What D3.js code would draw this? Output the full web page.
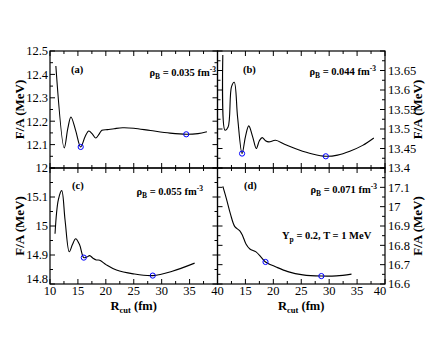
<!DOCTYPE html>
<html>
<head>
<meta charset="utf-8">
<script src="https://cdn.jsdelivr.net/npm/d3@7"></script>
<style>
  body { margin: 0; background: #fff; }
  svg text { fill: #000; }
</style>
</head>
<body>
<div id="chart"></div>
<script>
// values (R_cut in fm, F/A in MeV)
const rA = [11.05, 12.55, 13.2, 13.75, 14.6, 15.5, 16.3, 16.95, 17.6, 18.2, 18.8, 19.3, 20.3, 21.5, 23.0, 25.0, 28.0, 31.5, 34.4, 36.5, 38.1];
const fA = [12.436, 12.086, 12.17, 12.218, 12.16, 12.09, 12.135, 12.158, 12.145, 12.128, 12.145, 12.161, 12.164, 12.168, 12.172, 12.170, 12.160, 12.149, 12.144, 12.147, 12.155];
const minA = [[15.5, 12.09], [34.4, 12.144]];

const rB = [10.95, 11.35, 11.9, 12.5, 13.0, 13.6, 14.4, 15.0, 15.6, 16.3, 16.95, 17.5, 18.0, 18.6, 19.2, 20.4, 22.0, 24.5, 27.0, 29.4, 31.5, 33.7, 36.0, 38.0];
const fB = [13.69, 13.497, 13.505, 13.608, 13.62, 13.53, 13.437, 13.48, 13.508, 13.48, 13.45, 13.47, 13.478, 13.47, 13.467, 13.471, 13.461, 13.447, 13.436, 13.430, 13.433, 13.443, 13.458, 13.477];
const minB = [[14.4, 13.437], [29.4, 13.430]];

const rC = [10.9, 11.5, 12.1, 12.7, 13.45, 14.0, 14.6, 15.3, 16.05, 16.6, 17.1, 17.7, 18.3, 18.9, 20.1, 21.9, 24.9, 28.4, 31.9, 35.9];
const fC = [14.973, 15.091, 15.122, 15.02, 14.911, 14.935, 14.956, 14.935, 14.891, 14.893, 14.898, 14.889, 14.883, 14.882, 14.866, 14.848, 14.835, 14.829, 14.844, 14.872];
const minC = [[16.05, 14.891], [28.4, 14.829]];

const rD = [10.96, 11.6, 12.3, 13.1, 14.0, 14.5, 15.1, 15.8, 16.9, 17.8, 18.6, 20.5, 22.6, 25.3, 28.6, 31.3, 34.0];
const fD = [17.105, 17.04, 16.964, 16.897, 16.875, 16.85, 16.807, 16.781, 16.766, 16.739, 16.714, 16.688, 16.664, 16.647, 16.641, 16.642, 16.651];
const minD = [[18.6, 16.714], [28.6, 16.641]];

// tick labels
const xTicksLeft = [10, 15, 20, 25, 30, 35, 40];
const xTicksRight = [15, 20, 25, 30, 35, 40];
const yTicksA = [12, 12.1, 12.2, 12.3, 12.4, 12.5];
const yTicksB = [13.4, 13.45, 13.5, 13.55, 13.6, 13.65];
const yTicksC = [14.8, 14.9, 15, 15.1];
const yTicksD = [16.6, 16.7, 16.8, 16.9, 17, 17.1];

const densities = ["0.035", "0.044", "0.055", "0.071"];
const panelNames = ["(a)", "(b)", "(c)", "(d)"];

const width = 436, height = 337;
const x0 = 50, xm = 217.5, x1 = 385;
const y0 = 51, ym = 168, y1 = 284;

const svg = d3.select("#chart").append("svg")
  .attr("width", width)
  .attr("height", height)
  .attr("font-family", "'Liberation Serif', 'DejaVu Serif', serif");

// one entry per panel, built from the arrays above
const panels = [
  {r: rA, f: fA, mins: minA, dom: [12, 12.5], major: 0.1, minor: 0.05, ticks: yTicksA, xt: xTicksLeft,
   xr: [x0, xm], yr: [ym, y0], side: "left", lab: [71, 73], rho: [216, 76]},
  {r: rB, f: fB, mins: minB, dom: [13.4, 13.7], major: 0.05, minor: 0.025, ticks: yTicksB, xt: xTicksRight,
   xr: [xm, x1], yr: [ym, y0], side: "right", lab: [243, 73], rho: [376, 75]},
  {r: rC, f: fC, mins: minC, dom: [14.8, 15.2], major: 0.1, minor: 0.05, ticks: yTicksC, xt: xTicksLeft,
   xr: [x0, xm], yr: [y1, ym], side: "left", lab: [72, 189], rho: [203, 195]},
  {r: rD, f: fD, mins: minD, dom: [16.6, 17.2], major: 0.1, minor: 0.05, ticks: yTicksD, xt: xTicksRight,
   xr: [xm, x1], yr: [y1, ym], side: "right", lab: [244, 189], rho: [377, 193]}
];

const fmt = v => String(+v.toFixed(3));

panels.forEach(function(p, i) {
  const x = d3.scaleLinear().domain([10, 40]).range(p.xr);
  const y = d3.scaleLinear().domain(p.dom).range(p.yr);
  const g = svg.append("g");

  // ticks pointing inward on all four sides
  const xMajor = d3.range(10, 40.01, 5);
  const xMinor = d3.range(12.5, 40, 5);
  const yMajor = d3.range(p.dom[0], p.dom[1] + 1e-6, p.major);
  const yMinor = d3.range(p.dom[0] + p.minor, p.dom[1], p.major);
  const tk = g.append("g").attr("stroke", "#000").attr("stroke-width", 1);
  function xt(vals, len) {
    vals.forEach(function(v) {
      tk.append("line").attr("x1", x(v)).attr("x2", x(v)).attr("y1", p.yr[0]).attr("y2", p.yr[0] - len);
      tk.append("line").attr("x1", x(v)).attr("x2", x(v)).attr("y1", p.yr[1]).attr("y2", p.yr[1] + len);
    });
  }
  function yt(vals, len) {
    vals.forEach(function(v) {
      tk.append("line").attr("y1", y(v)).attr("y2", y(v)).attr("x1", p.xr[0]).attr("x2", p.xr[0] + len);
      tk.append("line").attr("y1", y(v)).attr("y2", y(v)).attr("x1", p.xr[1]).attr("x2", p.xr[1] - len);
    });
  }
  xt(xMajor, 5); xt(xMinor, 3);
  yt(yMajor, 5); yt(yMinor, 3);

  // frame
  g.append("rect")
    .attr("x", p.xr[0]).attr("y", p.yr[1])
    .attr("width", p.xr[1] - p.xr[0]).attr("height", p.yr[0] - p.yr[1])
    .attr("fill", "none").attr("stroke", "#000").attr("stroke-width", 1.2);

  // y tick labels (the bottom one of panel c sits a bit higher, as in the source)
  g.selectAll(".yl").data(p.ticks).enter().append("text")
    .attr("x", p.side === "left" ? p.xr[0] - 2 : p.xr[1] + 3)
    .attr("y", d => y(d) - (i === 2 && d === 14.8 ? 5 : 0))
    .attr("dy", "0.35em")
    .attr("text-anchor", p.side === "left" ? "end" : "start")
    .attr("font-size", 12.5)
    .text(fmt);

  // x tick labels on the bottom panels
  if (p.yr[0] === y1) {
    g.selectAll(".xl").data(p.xt).enter().append("text")
      .attr("x", d => x(d) - (p.side === "right" && d === 40 ? 5 : 0))
      .attr("y", y1 + 11)
      .attr("text-anchor", "middle")
      .attr("font-size", 12.5)
      .text(d => d);

    const xl = g.append("text")
      .attr("x", (p.xr[0] + p.xr[1]) / 2)
      .attr("y", 310)
      .attr("text-anchor", "middle")
      .attr("font-size", 12.5)
      .attr("font-weight", "bold");
    xl.append("tspan").text("R");
    xl.append("tspan").attr("font-size", 8.5).attr("dy", 3).text("cut");
    xl.append("tspan").attr("dy", -3).text(" (fm)");
  }

  // y axis title
  const tx = p.side === "left" ? 24 : 422;
  const ty = (p.yr[0] + p.yr[1]) / 2;
  g.append("text")
    .attr("transform", `translate(${tx},${ty}) rotate(-90)`)
    .attr("text-anchor", "middle")
    .attr("font-size", 13)
    .attr("font-weight", "bold")
    .text("F/A (MeV)");

  // curve
  const pts = p.r.map((r, k) => [r, p.f[k]]);
  g.append("path")
    .datum(pts)
    .attr("fill", "none")
    .attr("stroke", "#000")
    .attr("stroke-width", 1.1)
    .attr("d", d3.line().x(d => x(d[0])).y(d => y(d[1])).curve(d3.curveCatmullRom.alpha(0.5)));

  // minima markers
  g.selectAll(".mk").data(p.mins).enter().append("circle")
    .attr("cx", d => x(d[0]))
    .attr("cy", d => y(d[1]))
    .attr("r", 2.6)
    .attr("fill", "none")
    .attr("stroke", "#0000ff")
    .attr("stroke-width", 1);

  // panel letter
  g.append("text")
    .attr("x", p.lab[0]).attr("y", p.lab[1])
    .attr("font-size", 10.5).attr("font-weight", "bold")
    .text(panelNames[i]);

  // density label
  const rt = g.append("text")
    .attr("x", p.rho[0]).attr("y", p.rho[1])
    .attr("text-anchor", "end")
    .attr("font-size", 10.5).attr("font-weight", "bold");
  rt.append("tspan").text("\u03c1");
  rt.append("tspan").attr("font-size", 7.5).attr("dy", 3).text("B");
  rt.append("tspan").attr("dy", -3).text(" = " + densities[i] + " fm");
  rt.append("tspan").attr("font-size", 7.5).attr("dy", -4).text("-3");
});

// composition note in panel (d)
const note = svg.append("text")
  .attr("x", 282).attr("y", 239)
  .attr("font-size", 10.5).attr("font-weight", "bold");
note.append("tspan").text("Y");
note.append("tspan").attr("font-size", 7.5).attr("dy", 3).text("p");
note.append("tspan").attr("dy", -3).text(" = 0.2, T = 1 MeV");
</script>
</body>
</html>
